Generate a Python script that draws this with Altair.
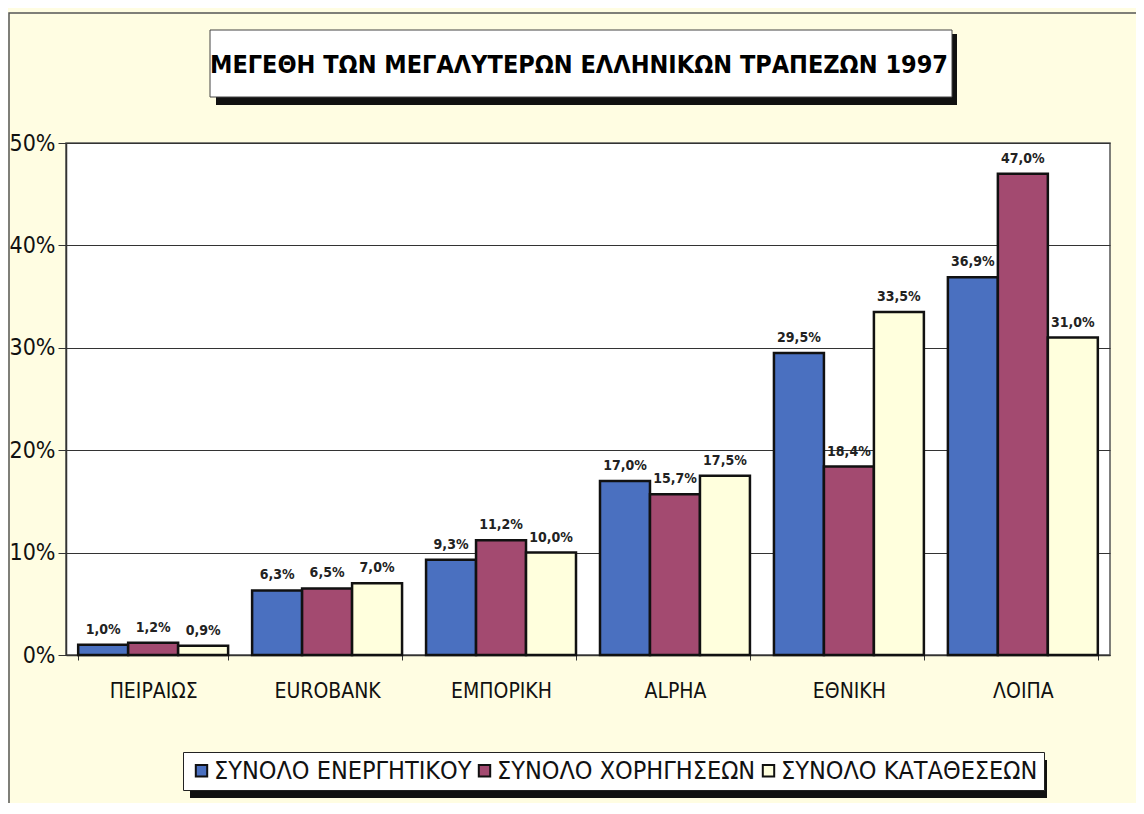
import altair as alt
import pandas as pd

banks = ["ΠΕΙΡΑΙΩΣ", "EUROBANK", "ΕΜΠΟΡΙΚΗ", "ALPHA", "ΕΘΝΙΚΗ", "ΛΟΙΠΑ"]
series = ["ΣΥΝΟΛΟ ΕΝΕΡΓΗΤΙΚΟΥ", "ΣΥΝΟΛΟ ΧΟΡΗΓΗΣΕΩΝ", "ΣΥΝΟΛΟ ΚΑΤΑΘΕΣΕΩΝ"]
energitiko = [1.0, 6.3, 9.3, 17.0, 29.5, 36.9]
xorigiseis = [1.2, 6.5, 11.2, 15.7, 18.4, 47.0]
katatheseis = [0.9, 7.0, 10.0, 17.5, 33.5, 31.0]
colors = ["#4A70C0", "#A34A70", "#FFFFDD"]
title_text = "ΜΕΓΕΘΗ ΤΩΝ ΜΕΓΑΛΥΤΕΡΩΝ ΕΛΛΗΝΙΚΩΝ ΤΡΑΠΕΖΩΝ 1997"

rows = []
for s, vals in zip(series, [energitiko, xorigiseis, katatheseis]):
    for b, v in zip(banks, vals):
        rows.append({"bank": b, "series": s, "value": v})
df = pd.DataFrame(rows)

FONT = "DejaVu Sans Condensed, Liberation Sans Narrow, Arial Narrow, sans-serif"
W, H = 1044, 512

base = alt.Chart(df).encode(
    x=alt.X("bank:N", sort=banks,
            scale=alt.Scale(paddingInner=0.138, paddingOuter=0.07),
            axis=alt.Axis(title=None, labelAngle=0, labelFontSize=21, labelFont=FONT,
                          labelColor="#111", labelPadding=20, tickBand="extent",
                          tickSize=5, tickColor="#333", domainColor="#333",
                          domainWidth=1.5)),
    xOffset=alt.XOffset("series:N", sort=series, scale=alt.Scale(paddingInner=0, paddingOuter=0)),
)

bars = base.mark_bar(stroke="#111", strokeWidth=2.5).encode(
    y=alt.Y("value:Q", scale=alt.Scale(domain=[0, 50]),
            axis=alt.Axis(title=None, values=[0, 10, 20, 30, 40, 50],
                          labelExpr="datum.value + '%'", labelFontSize=23, labelFont=FONT,
                          labelColor="#111", gridColor="#333", gridWidth=1.2,
                          tickColor="#333", tickSize=8, domainColor="#333",
                          domainWidth=1.5, labelPadding=3)),
    color=alt.Color("series:N", sort=series,
                    scale=alt.Scale(domain=series, range=colors),
                    legend=alt.Legend(title=None, orient="none", direction="horizontal",
                                      legendX=117, legendY=609,
                                      symbolType="square", symbolSize=130,
                                      symbolStrokeColor="#111", symbolStrokeWidth=2,
                                      labelFont=FONT, labelFontSize=25, labelColor="#111",
                                      labelLimit=400, columnPadding=0, symbolOffset=0,
                                      labelOffset=0,
                                      fillColor="white", strokeColor="#222",
                                      padding=6)),
)

labels = base.mark_text(dy=-8, fontSize=14, font=FONT, fontWeight="bold",
                        color="#222", baseline="bottom").encode(
    y="value:Q",
    text=alt.Text("lbl:N"),
).transform_calculate(
    lbl="replace(format(datum.value, '.1f'), '.', ',') + '%'"
)

deco_df = pd.DataFrame({"t": [title_text]})
deco = alt.Chart(deco_df)
outer_border = deco.mark_rect(fill=None, stroke="#555", strokeWidth=1.5).encode(
    x=alt.value(-57), x2=alt.value(1200), y=alt.value(-130), y2=alt.value(800))
title_shadow = deco.mark_rect(color="#111").encode(
    x=alt.value(150), x2=alt.value(891), y=alt.value(-109), y2=alt.value(-38))
title_box = deco.mark_rect(fill="white", stroke="#444", strokeWidth=1).encode(
    x=alt.value(144), x2=alt.value(886), y=alt.value(-113), y2=alt.value(-46))
title_txt = deco.mark_text(font=FONT, fontSize=25, fontWeight="bold", color="#000",
                           align="center", baseline="middle").encode(
    x=alt.value(513), y=alt.value(-78), text="t:N")
legend_shadow = deco.mark_rect(color="#111").encode(
    x=alt.value(124), x2=alt.value(981), y=alt.value(617), y2=alt.value(655))

chart = alt.layer(outer_border, title_shadow, title_box, title_txt, legend_shadow,
                  bars, labels).properties(
    width=W, height=H,
    padding={"left": 58, "top": 135, "right": 26, "bottom": 148},
    autosize=alt.AutoSizeParams(type="none"),
    background="#FFFDE2",
).configure_view(
    fill="white", stroke="#555", strokeWidth=1.5
)

chart.save("out.html", embed_options={"renderer": "svg", "actions": False})
